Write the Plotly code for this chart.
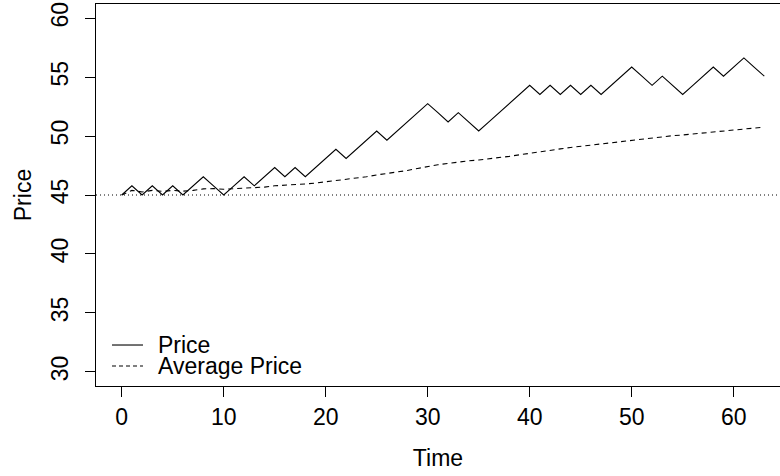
import plotly.graph_objects as go

# ---- data ----
time = list(range(64))
price = [45.00, 45.78, 45.00, 45.78, 45.00, 45.78, 45.00, 45.78, 46.55, 45.78,
         45.00, 45.78, 46.55, 45.78, 46.55, 47.33, 46.55, 47.33, 46.55, 47.33,
         48.10, 48.88, 48.10, 48.88, 49.65, 50.43, 49.65, 50.43, 51.20, 51.98,
         52.75, 51.98, 51.20, 51.98, 51.20, 50.43, 51.20, 51.98, 52.75, 53.53,
         54.30, 53.53, 54.30, 53.53, 54.30, 53.53, 54.30, 53.53, 54.30, 55.08,
         55.85, 55.08, 54.30, 55.08, 54.30, 53.53, 54.30, 55.08, 55.85, 55.08,
         55.85, 56.63, 55.85, 55.08]
avg_price = [45.00, 45.39, 45.26, 45.39, 45.31, 45.39, 45.33, 45.39, 45.52, 45.54,
             45.49, 45.52, 45.60, 45.61, 45.67, 45.78, 45.82, 45.90, 45.94, 46.01,
             46.11, 46.23, 46.31, 46.42, 46.55, 46.70, 46.81, 46.94, 47.08, 47.25,
             47.42, 47.57, 47.68, 47.80, 47.90, 47.97, 48.06, 48.16, 48.28, 48.41,
             48.55, 48.67, 48.80, 48.91, 49.03, 49.13, 49.24, 49.33, 49.43, 49.54,
             49.67, 49.77, 49.85, 49.95, 50.03, 50.09, 50.17, 50.25, 50.35, 50.43,
             50.51, 50.61, 50.70, 50.76]
strike = 45
x_ticks = [0, 10, 20, 30, 40, 50, 60]
y_ticks = [30, 35, 40, 45, 50, 55, 60]
legend_labels = ["Price", "Average Price"]

FONT = "Liberation Sans, Arial, Helvetica, sans-serif"
FS = 23

fig = go.Figure()
fig.add_trace(go.Scatter(x=time, y=price, mode="lines", name=legend_labels[0],
                         line=dict(color="black", width=1.1), showlegend=False))
fig.add_trace(go.Scatter(x=time, y=avg_price, mode="lines", name=legend_labels[1],
                         line=dict(color="black", width=1.1, dash="5px,4px"),
                         showlegend=False))

# horizontal dotted reference line
fig.add_shape(type="line", xref="x domain", yref="y", x0=0, x1=1, y0=strike, y1=strike,
              line=dict(color="black", width=1, dash="1px,3px"))

# manual legend (R-style, no box)
leg_y = [0.1073, 0.0524]
dashes = ["solid", "4px,3px"]
for lab, ly, dsh in zip(legend_labels, leg_y, dashes):
    fig.add_shape(type="line", xref="paper", yref="paper", x0=0.0234, x1=0.0687,
                  y0=ly, y1=ly, line=dict(color="black", width=1.1, dash=dsh))
    fig.add_annotation(xref="paper", yref="paper", x=0.0878, y=ly, text=lab,
                       showarrow=False, xanchor="left", yanchor="middle",
                       font=dict(family=FONT, size=FS, color="black"))

fig.update_layout(
    template="none",
    width=780, height=476,
    margin=dict(l=96, r=0, t=4, b=90, autoexpand=False),
    paper_bgcolor="white", plot_bgcolor="white",
    font=dict(family=FONT, size=FS, color="black"),
    xaxis=dict(range=[-2.52, 64.54], tickvals=x_ticks, ticks="outside", ticklen=10,
               tickcolor="black", tickwidth=1, showline=True, linecolor="black",
               linewidth=1, mirror=True, showgrid=False, zeroline=False,
               automargin=False,
               title=dict(text="Time", standoff=21,
                          font=dict(family=FONT, size=FS, color="black")),
               tickfont=dict(family=FONT, size=FS)),
    yaxis=dict(range=[28.8, 61.2], tickvals=y_ticks, ticks="outside", ticklen=10,
               tickcolor="black", tickwidth=1, showline=True, linecolor="black",
               linewidth=1, mirror=False, showgrid=False, zeroline=False,
               automargin=False, ticklabelstandoff=8,
               tickangle=-90,
               title=dict(text="Price", standoff=8,
                          font=dict(family=FONT, size=FS, color="black")),
               tickfont=dict(family=FONT, size=FS)),
)

fig.write_html("out.html", config={"displayModeBar": False},
               post_script="document.body.style.margin='0';document.body.style.padding='0';")
